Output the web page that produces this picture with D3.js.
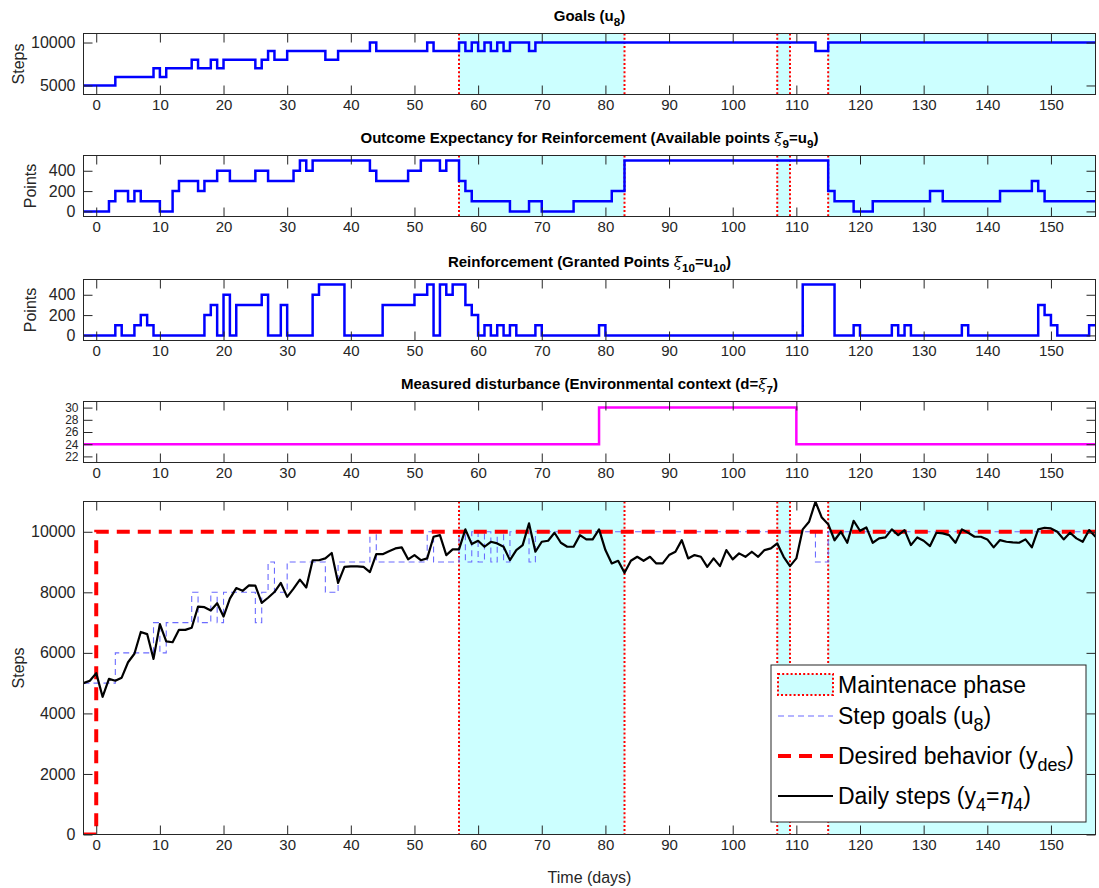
<!DOCTYPE html>
<html><head><meta charset="utf-8">
<script src="https://cdn.jsdelivr.net/npm/d3@7"></script>
<style>
html,body{margin:0;padding:0;background:#fff;}
svg{display:block;font-family:"Liberation Sans",Arial,Helvetica,sans-serif;}
</style></head>
<body><svg id="c" width="1099" height="888"></svg>
<script>
// ---------------- DATA ----------------
const xTicks = d3.range(0, 151, 10);
const dayStart = -2, dayEnd = 157;
// Goals u8 (step changes)
const goalDays = [-2,3,9,10,11,15,16,18,19,20,25,26,27,28,30,36,38,43,44,52,53,57,58,59,60,61,62,63,64,65,68,69,113,115];
const goalVals = [5000,6000,7000,6000,7000,8000,7000,8000,7000,8000,7000,8000,9000,8000,9000,8000,9000,10000,9000,10000,9000,10000,9000,10000,9000,10000,9000,10000,9000,10000,9000,10000,9000,10000];
// Available points xi9
const availDays = [-2,2,3,5,6,7,10,12,13,16,17,19,21,25,27,31,32,33,34,43,44,49,51,54,55,57,58,59,65,68,70,75,81,83,115,116,119,122,131,133,142,147,148,149];
const availVals = [0,100,200,100,200,100,0,200,300,200,300,400,300,400,300,400,500,400,500,400,300,400,500,400,500,300,200,100,0,100,0,100,200,500,200,100,0,100,200,100,200,300,200,100];
// Granted points xi10
const grantDays = [-2,3,4,6,7,8,9,17,18,19,20,21,22,26,27,29,30,34,35,39,45,50,52,53,54,55,56,58,59,60,61,62,63,64,65,66,69,70,79,80,111,116,119,120,125,126,127,128,136,137,148,149,150,151,156];
const grantVals = [0,100,0,100,200,100,0,200,300,0,400,0,300,400,0,300,0,400,500,0,300,400,500,0,500,400,500,300,200,0,100,0,100,0,100,0,100,0,100,0,500,0,100,0,100,0,100,0,100,0,300,200,100,0,100];
// Disturbance xi7
const distDays = [-2,79,110];
const distVals = [24,30,24];
// Desired behaviour
const desiredX = [-2,0,0,157];
const desiredY = [0,0,10000,10000];
// Daily steps y4 (days -2 .. 157)
const dailySteps = [5000,5080,5330,4550,5140,5080,5180,5690,5970,6690,
 6620,5800,6950,6380,6350,6760,6760,6830,7530,7510,
 7400,7640,7200,7790,8140,8050,8230,8220,7650,7820,
 8010,8310,7850,8120,8420,8160,9060,9060,9120,9300,
 8310,8840,8860,8860,8840,8670,9260,9260,9360,9450,
 9485,9090,9230,9060,9120,9835,9890,9230,9418,9418,
 10080,9594,9703,9505,9670,9615,9505,9064,9395,9560,
 10277,9340,9670,9703,9967,9637,9505,9505,9890,9748,
 9748,10080,9395,8955,9042,8645,9042,9174,9042,9174,
 8955,8955,9230,9340,9725,9120,9230,9174,8843,9120,
 8866,9395,9088,9286,9174,9340,9174,9395,9450,9615,
 9174,8866,9120,10080,10331,10992,10470,10250,9720,10000,
 9637,10364,10033,10144,9637,9781,9814,10080,9890,10056,
 9560,9814,9703,9527,9967,9945,9890,9637,10080,9967,
 9835,9835,9748,9485,9725,9670,9648,9637,9748,9485,
 10080,10132,10110,10000,9748,9967,9781,9670,10056,9835];
// Maintenance phases
const maintStart = [57,107,115];
const maintEnd = [83,109,157];
const phaseLines = [57,83,107,109,115];

// ---------------- LAYOUT ----------------
const svg = d3.select("#c");
const xL = 83.5, xR = 1095.5;
const x = d3.scaleLinear().domain([dayStart, dayEnd]).range([xL, xR]);
const AX = "#262626", TXT = "#262626";

const panels = [
  {top:33.5, bottom:94.5, ydom:[3950,11050], yticks:[5000,10000], ylabel:"Steps", ylx:18, maint:true, yfs:16,
   title:[{t:"Goals (u"},{t:"8",sub:true},{t:")"}]},
  {top:155.5, bottom:216.5, ydom:[-50,550], yticks:[0,200,400], ylabel:"Points", ylx:30, maint:true, yfs:16,
   title:[{t:"Outcome Expectancy for Reinforcement (Available points "},{t:"ξ",it:true},{t:"9",sub:true},{t:"=u"},{t:"9",sub:true},{t:")"}]},
  {top:279.5, bottom:340.5, ydom:[-50,550], yticks:[0,200,400], ylabel:"Points", ylx:30, maint:false, yfs:16,
   title:[{t:"Reinforcement (Granted Points "},{t:"ξ",it:true},{t:"10",sub:true},{t:"=u"},{t:"10",sub:true},{t:")"}]},
  {top:401.5, bottom:462.5, ydom:[21,31], yticks:[22,24,26,28,30], ylabel:null, maint:false, yfs:12,
   title:[{t:"Measured disturbance (Environmental context (d="},{t:"ξ",it:true},{t:"7",sub:true},{t:")"}]},
  {top:501.5, bottom:834.5, ydom:[0,11000], yticks:[0,2000,4000,6000,8000,10000], ylabel:"Steps", ylx:18, maint:true, yfs:16,
   title:null}
];

function rich(textSel, parts, size){
  let shifted = 0;
  parts.forEach(p=>{
    const ts = textSel.append("tspan").text(p.t);
    if(p.sub){
      ts.attr("font-size", size*0.78);
      if(!shifted){ ts.attr("dy", size*0.32); shifted = 1; }
    } else {
      if(shifted){ ts.attr("dy", -size*0.32); shifted = 0; }
    }
    if(p.it){ ts.attr("font-style","italic").attr("font-weight","normal").attr("font-family","'DejaVu Serif',serif"); }
  });
}

function stairsPts(ds, vs){
  const pts = ds.map((d,i)=>[d, vs[i]]);
  pts.push([dayEnd, vs[vs.length-1]]);
  return pts;
}

panels.forEach((P, idx)=>{
  const y = d3.scaleLinear().domain(P.ydom).range([P.bottom, P.top]);
  const g = svg.append("g");
  const clipId = "clip"+idx;
  svg.append("clipPath").attr("id", clipId).append("rect")
    .attr("x", xL).attr("y", P.top).attr("width", xR-xL).attr("height", P.bottom-P.top);
  const plot = g.append("g").attr("clip-path", `url(#${clipId})`);

  if(P.maint){
    plot.selectAll("rect.m").data(maintStart).join("rect")
      .attr("x", (d)=>x(d)).attr("y", P.top)
      .attr("width", (d,i)=>x(maintEnd[i]) - x(d)).attr("height", P.bottom-P.top)
      .attr("fill", "#ccffff");
    plot.selectAll("line.ph").data(phaseLines).join("line")
      .attr("x1", d=>x(d)).attr("x2", d=>x(d)).attr("y1", P.top).attr("y2", P.bottom)
      .attr("stroke", "#ff0000").attr("stroke-width", 2).attr("stroke-dasharray", "2,2.2");
  }

  const line = d3.line().x(d=>x(d[0])).y(d=>y(d[1]));
  const stair = d3.line().x(d=>x(d[0])).y(d=>y(d[1])).curve(d3.curveStepAfter);

  if(idx===0){
    plot.append("path").attr("d", stair(stairsPts(goalDays, goalVals)))
      .attr("fill","none").attr("stroke","#0000ff").attr("stroke-width",2.5);
  } else if(idx===1){
    plot.append("path").attr("d", stair(stairsPts(availDays, availVals)))
      .attr("fill","none").attr("stroke","#0000ff").attr("stroke-width",2.5);
  } else if(idx===2){
    plot.append("path").attr("d", stair(stairsPts(grantDays, grantVals)))
      .attr("fill","none").attr("stroke","#0000ff").attr("stroke-width",2.5);
  } else if(idx===3){
    plot.append("path").attr("d", stair(stairsPts(distDays, distVals)))
      .attr("fill","none").attr("stroke","#ff00ff").attr("stroke-width",2.5);
  } else {
    plot.append("path").attr("d", stair(stairsPts(goalDays, goalVals)))
      .attr("fill","none").attr("stroke","#6b6bff").attr("stroke-width",1.1).attr("stroke-dasharray","6,4");
    plot.append("path").attr("d", line(desiredX.map((d,i)=>[d, desiredY[i]])))
      .attr("fill","none").attr("stroke","#ff0000").attr("stroke-width",4).attr("stroke-dasharray","13,8");
    const days = d3.range(dayStart, dayEnd+1);
    plot.append("path").attr("d", line(days.map((d,i)=>[d, dailySteps[i]])))
      .attr("fill","none").attr("stroke","#000").attr("stroke-width",2.2).attr("stroke-linejoin","round");
  }

  // axes
  const ax = g.append("g");
  ax.append("g").attr("transform",`translate(0,${P.bottom})`)
    .call(d3.axisBottom(x).tickValues(xTicks).tickFormat(d3.format("d")).tickSizeInner(-9).tickSizeOuter(0).tickPadding(5))
    .selectAll("text").attr("font-size", 15);
  ax.append("g").attr("transform",`translate(0,${P.top})`)
    .call(d3.axisTop(x).tickValues(xTicks).tickSizeInner(-9).tickSizeOuter(0).tickFormat(""));
  ax.append("g").attr("transform",`translate(${xL},0)`)
    .call(d3.axisLeft(y).tickValues(P.yticks).tickFormat(d3.format("d")).tickSizeInner(-9).tickSizeOuter(0).tickPadding(P.yfs<14?5:8))
    .selectAll("text").attr("font-size", P.yfs);
  ax.append("g").attr("transform",`translate(${xR},0)`)
    .call(d3.axisRight(y).tickValues(P.yticks).tickSizeInner(-9).tickSizeOuter(0).tickFormat(""));
  ax.selectAll(".domain").remove();
  ax.selectAll(".tick line").attr("stroke", AX).attr("stroke-width", 1);
  ax.selectAll(".tick text").attr("fill", TXT)
    .attr("font-family", '"Liberation Sans",Arial,sans-serif');
  g.append("rect").attr("x", xL).attr("y", P.top).attr("width", xR-xL).attr("height", P.bottom-P.top)
    .attr("fill","none").attr("stroke", AX).attr("stroke-width", 1);

  if(P.ylabel){
    g.append("text").attr("transform", `translate(${P.ylx},${(P.top+P.bottom)/2}) rotate(-90)`)
      .attr("text-anchor","middle").attr("dominant-baseline","central")
      .attr("font-size", 16).attr("fill", TXT).text(P.ylabel);
  }
  if(P.title){
    const t = g.append("text").attr("x", (xL+xR)/2).attr("y", P.top-12.5)
      .attr("text-anchor","middle").attr("font-size", 15).attr("font-weight","bold").attr("fill","#000");
    rich(t, P.title, 15);
  }
});

// x label
svg.append("text").attr("x",(xL+xR)/2).attr("y", 877).attr("text-anchor","middle")
  .attr("dominant-baseline","central").attr("font-size",16).attr("fill",TXT).text("Time (days)");

// ---------------- LEGEND ----------------
const lg = svg.append("g");
const lgX = 771, lgY = 665, lgW = 315, lgH = 157;
lg.append("rect").attr("x",lgX).attr("y",lgY).attr("width",lgW).attr("height",lgH)
  .attr("fill","#fff").attr("stroke",AX).attr("stroke-width",1);
const rows = [
  {y:685, kind:"patch", parts:[{t:"Maintenace phase"}]},
  {y:716, kind:"goal", parts:[{t:"Step goals (u"},{t:"8",sub:true},{t:")"}]},
  {y:756, kind:"des", parts:[{t:"Desired behavior (y"},{t:"des",sub:true},{t:")"}]},
  {y:796, kind:"daily", parts:[{t:"Daily steps (y"},{t:"4",sub:true},{t:"="},{t:"η",it:true},{t:"4",sub:true},{t:")"}]}
];
rows.forEach(r=>{
  if(r.kind==="patch"){
    lg.append("rect").attr("x",778).attr("y",r.y-11).attr("width",55).attr("height",21)
      .attr("fill","#ccffff").attr("stroke","#ff0000").attr("stroke-width",2).attr("stroke-dasharray","2,2.2");
  } else if(r.kind==="goal"){
    lg.append("line").attr("x1",778).attr("x2",833).attr("y1",r.y).attr("y2",r.y)
      .attr("stroke","#6b6bff").attr("stroke-width",1.1).attr("stroke-dasharray","6,4");
  } else if(r.kind==="des"){
    lg.append("line").attr("x1",778).attr("x2",833).attr("y1",r.y).attr("y2",r.y)
      .attr("stroke","#ff0000").attr("stroke-width",4).attr("stroke-dasharray","13,8");
  } else {
    lg.append("line").attr("x1",778).attr("x2",833).attr("y1",r.y).attr("y2",r.y)
      .attr("stroke","#000").attr("stroke-width",2.2);
  }
  const t = lg.append("text").attr("x",838).attr("y",r.y+8).attr("font-size",23).attr("fill","#000");
  rich(t, r.parts, 23);
});
</script></body></html>
